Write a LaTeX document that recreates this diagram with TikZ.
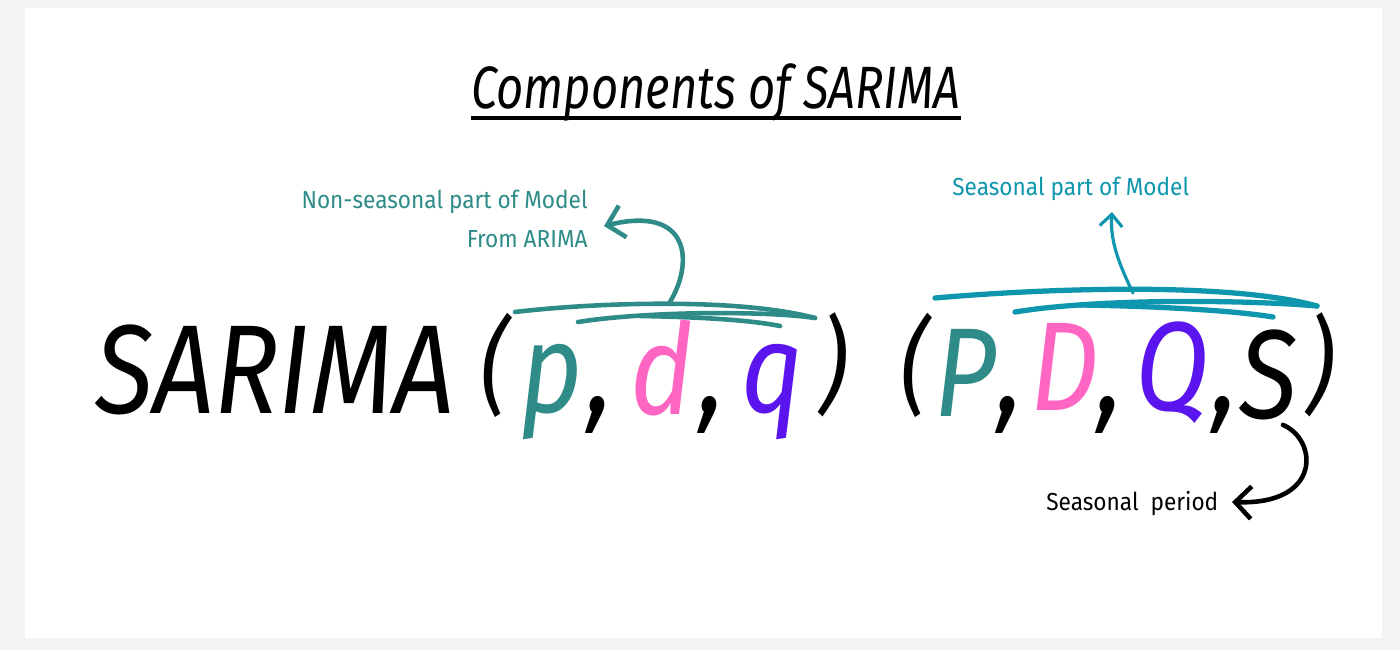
\documentclass[tikz,border=0pt]{standalone}
\usepackage{fontspec}
\usepackage{xcolor}
\usetikzlibrary{arrows.meta}
\newfontfamily\handfont[FakeStretch=0.92]{Fira Sans}
\newfontfamily\bigfont[FakeStretch=0.85]{Fira Sans}
\newfontfamily\titlefont[FakeStretch=0.79]{Fira Sans}
\definecolor{pagegray}{HTML}{F2F3F5}
\definecolor{nscol}{HTML}{2E8B87}
\definecolor{secol}{HTML}{0E96AE}
\definecolor{dcol}{HTML}{FF66C4}
\definecolor{qcol}{HTML}{5A14EE}
\tikzset{
  lbl/.style={font=\handfont\fontsize{14}{18}\selectfont,inner sep=0pt},
  big/.style={font=\bigfont\itshape\fontsize{72}{80}\selectfont,inner sep=0pt,anchor=base},
  par/.style={font=\bigfont\itshape\fontsize{60}{66}\selectfont,inner sep=0pt},
  bar/.style={line width=2.6pt,line cap=round},
  hand/.style={line cap=round,line join=round},
  tip/.style={-{Straight Barb[length=3.2mm,width=6.5mm]}}
}
\newcommand{\ttl}[1]{{\titlefont\itshape\fontsize{34}{40}\selectfont #1}}

\begin{document}
\begin{tikzpicture}[x=0.02cm,y=-0.02cm]
\fill[pagegray] (0,0) rectangle (1400,650);
\fill[white] (25,8) rectangle (1382,638);
\useasboundingbox (0,0) rectangle (1400,650);
\node[anchor=base,inner sep=0pt] (title) at (716,108) {\ttl{Components of SARIMA}};
\draw[line width=2.2pt] ([yshift=-2mm]title.base west) -- ([yshift=-2mm]title.base east);
% main formula
\node[big] (sarima) at (275,413) {SARIMA};
\node[par] (lpa) at (495,365) {(};
\node[big,nscol] (p) at (552,412) {p};
\node[big] (c1) at (600,412) {,};
\node[big,dcol] (d) at (662,414) {d};
\node[big] (c2) at (712,412) {,};
\node[big,qcol] (q) at (772,412) {q};
\node[par] (rpa) at (834,365) {)};
\node[par] (lpb) at (915,365) {(};
\node[big,nscol] (bigp) at (965,416) {P};
\node[big] (c3) at (1010,412) {,};
\node[big,dcol] (bigd) at (1065,410) {D};
\node[big] (c4) at (1110,412) {,};
\node[big,qcol] (bigq) at (1172,410) {Q};
\node[big] (c5) at (1225,412) {,};
\node[big] (bigs) at (1268,418) {S};
\node[par] (rpb) at (1321,365) {)};
% labels
\node[lbl,nscol,align=right,anchor=north east] (nslbl) at (588,190) {Non-seasonal part of Model\\[4pt]From ARIMA};
\node[lbl,secol,anchor=base west] (selbl) at (952,195) {Seasonal part of Model};
\node[lbl,anchor=base west] (perlbl) at (1046,510) {Seasonal\ \ period};
% overlines
\coordinate (nstop) at (670,302);
\coordinate (nstip) at (604,226);
\coordinate (setop) at (1133,293);
\coordinate (pertip) at (1232,502);
\draw[bar,nscol] (515,312) .. controls (600,302) and (740,298) .. (815,318);
\draw[bar,nscol] (578,322) .. controls (640,312) and (760,310) .. (815,318);
\draw[bar,nscol] (640,316) .. controls (700,317) and (750,320) .. (780,326);
\draw[bar,secol,line width=3pt] (935,298) .. controls (1050,288) and (1230,282) .. (1317,306);
\draw[bar,secol,line width=3pt] (1015,312) .. controls (1100,298) and (1250,300) .. (1317,306);
\draw[bar,secol,line width=3pt] (1080,305) .. controls (1150,306) and (1230,310) .. (1273,317);
% arrows
\draw[hand,tip,nscol,line width=2.6pt] (nstop) .. controls (694,262) and (690,205) .. (nstip);
\draw[hand,tip,secol,line width=1.8pt,-{Straight Barb[length=2.4mm,width=4.5mm]}] (setop) .. controls (1118,262) and (1110,240) .. ([xshift=3.2cm,yshift=-3.4mm]selbl.base west);
\draw[hand,tip,line width=2.6pt] ([xshift=3mm,yshift=-1mm]bigs.south) .. controls (1318,440) and (1322,505) .. (pertip);
\end{tikzpicture}
\end{document}
